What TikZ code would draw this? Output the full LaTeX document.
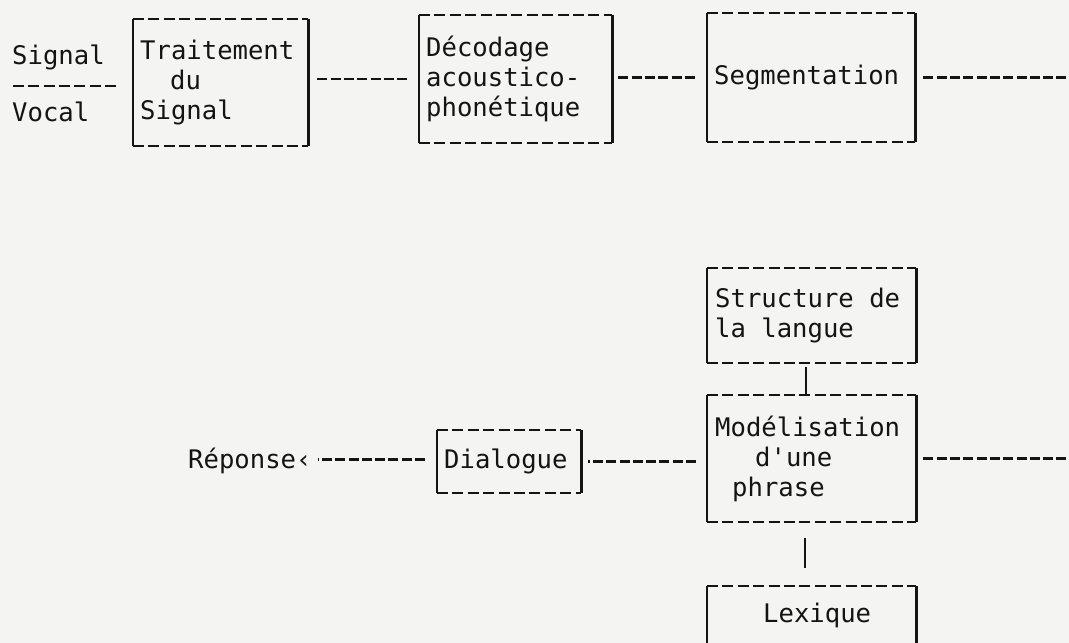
\documentclass[tikz,border=0pt]{standalone}
\usepackage{fontspec}
\newfontfamily\tw{DejaVu Sans Mono}
\newcommand\chsp{\hspace*{15.41pt}}
\definecolor{ink}{HTML}{141414}
\definecolor{paper}{HTML}{F4F4F2}
\begin{document}
\begin{tikzpicture}[x=1pt,y=-1pt,
  every node/.style={font=\tw\fontsize{25.6}{30}\selectfont, text=ink},
  tbox/.style={rectangle, draw=none, anchor=west, align=left, inner xsep=7pt, inner ysep=0pt},
  border/.style={draw=ink, line width=2.3pt, dash pattern=on 11pt off 4.4pt},
  side/.style={draw=ink, line width=2.3pt},
  conn/.style={draw=ink, line width=2.3pt, dash pattern=on 10pt off 3.3pt},
  vlink/.style={draw=ink, line width=2.4pt},
]
\path[use as bounding box, fill=paper] (0,0) rectangle (1069,643);
\clip (0,0) rectangle (1069,643);

% boxes
\node[tbox, text width=161pt, minimum height=127pt] (trait) at (133,82.5)
  {Traitement\\\hspace*{30pt}du\\Signal};
\node[tbox, text width=179pt, minimum height=128pt] (deco) at (419,79)
  {Décodage\\acoustico-\\phonétique};
\node[tbox, text width=194pt, minimum height=129pt, inner xsep=7pt] (seg) at (707,77.5)
  {Segmentation\\[-6pt]};
\node[tbox, text width=193pt, minimum height=95pt, inner xsep=8pt] (struct) at (707,315.5)
  {Structure\chsp de\\la\chsp langue};
\node[tbox, text width=193pt, minimum height=127pt, inner xsep=8pt] (model) at (707,458.5)
  {Modélisation\\\hspace*{40pt}d'une\\\hspace*{17pt}phrase};
\node[tbox, text width=130pt, minimum height=63pt, inner xsep=7pt] (dial) at (437,461.5)
  {Dialogue};
\node[tbox, anchor=north west, text width=193pt, inner xsep=8pt, text height=36pt, text depth=80pt] (lex) at (707,586)
  {\hspace*{48pt}Lexique};

\foreach \n in {trait,deco,seg,struct,model,dial,lex}{
  \draw[border] (\n.north west) -- (\n.north east);
  \draw[border] (\n.south west) -- (\n.south east);
  \draw[side] (\n.north west) -- (\n.south west);
  \draw[side] (\n.north east) -- (\n.south east);
}

% free texts
\node[anchor=base west, inner sep=0pt] (sig) at (12,64) {Signal};
\node[anchor=base west, inner sep=0pt] (voc) at (12,121) {Vocal};
\node[anchor=base west, inner sep=0pt] (rep) at (188,468) {Réponse‹};

% connectors
\coordinate (in) at (13,86);
\draw[conn, dash pattern=on 11pt off 4.3pt, shorten >=13pt] (in) -- (in -| trait.west);
\draw[conn, shorten <=9pt, shorten >=12pt] (deco.west -| trait.east) -- (deco.west);
\draw[conn, shorten <=6pt, shorten >=12pt] (seg.west -| deco.east) -- (seg.west);
\coordinate (segout) at (1069,76);
\draw[conn, shorten <=8pt] (seg.east) -- (seg.east -| segout);
\draw[vlink, shorten <=4pt] ([xshift=-5.5pt]struct.south) -- ([xshift=-5.5pt]model.north);
\draw[vlink, shorten <=16pt, shorten >=18pt] ([xshift=-6.5pt]model.south) -- ([xshift=-6.5pt]lex.north);
\coordinate (modout) at (1069,458);
\draw[conn, shorten <=7pt] (model.east) -- (model.east -| modout);
\draw[conn, shorten <=11pt, shorten >=7pt] (dial.east -| model.west) -- (dial.east);
\draw[conn, shorten <=12pt, shorten >=6pt] ([yshift=2pt]dial.west) -- ([yshift=2pt]dial.west -| rep.east);
\end{tikzpicture}
\end{document}
